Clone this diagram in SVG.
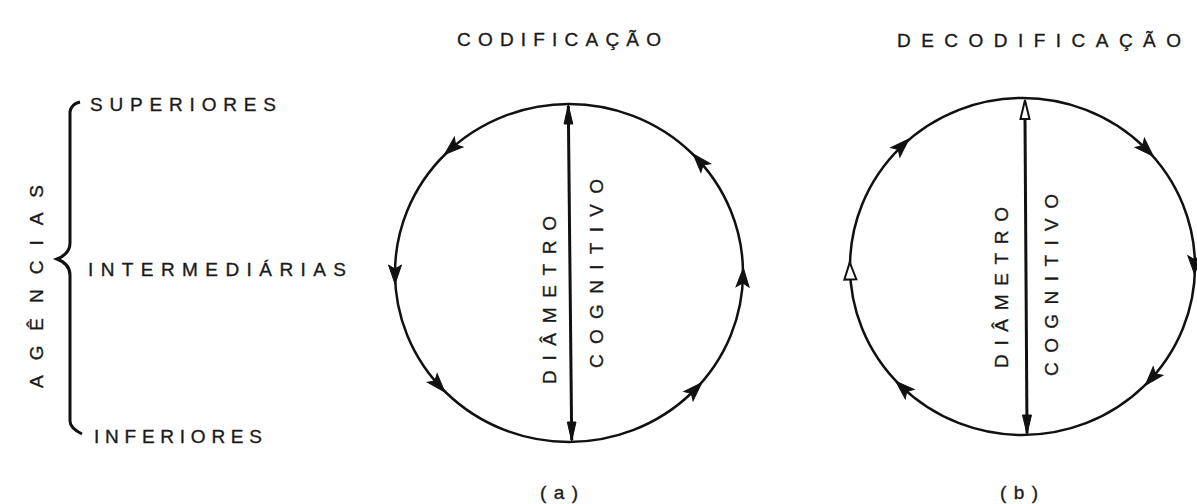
<svg xmlns="http://www.w3.org/2000/svg" width="1197" height="504" viewBox="0 0 1197 504">
<style>
  .t { font-family: "Liberation Sans", Arial, sans-serif; font-size: 19px; fill: #1a1a1a; stroke: #1a1a1a; stroke-width: 0.35; }
  .c { fill: none; stroke: #111; stroke-width: 2.5; }
  .d { fill: none; stroke: #111; stroke-width: 3; }
  .ah { fill: #111; stroke: #111; stroke-width: 1; stroke-linejoin: miter; }
  .ho { fill: #fff; stroke: #111; stroke-width: 2; }
</style>
<defs>
  <path id="arr" d="M11,0 L-8,-6.5 L-4,0 L-8,6.5 Z"/>
  <path id="arrh" d="M10,0 L-7,-6 L-7,6 Z"/>
</defs>
<rect width="1197" height="504" fill="#fff"/>

<g id="titles">
  <text class="t" x="457" y="46" textLength="204" lengthAdjust="spacing">CODIFICAÇÃO</text>
  <text class="t" x="897" y="47" textLength="284" lengthAdjust="spacing">DECODIFICAÇÃO</text>
</g>

<g id="agencias">
  <text class="t" transform="translate(43,388) rotate(-90)" x="0" y="0" textLength="203" lengthAdjust="spacing">AGÊNCIAS</text>
  <path class="d" d="M80,102 Q71,104 70,112 L70,243 Q70,254 57,259 Q70,264 70,275 L70,421 Q70,428 82,434"/>
  <text class="t" x="90" y="111" textLength="186" lengthAdjust="spacing">SUPERIORES</text>
  <text class="t" x="88" y="276" textLength="258" lengthAdjust="spacing">INTERMEDIÁRIAS</text>
  <text class="t" x="94" y="443" textLength="168" lengthAdjust="spacing">INFERIORES</text>
</g>

<g id="codificacao">
  <ellipse class="c" cx="569" cy="273" rx="174" ry="169"/>
  <text class="t" transform="translate(556,384) rotate(-90)" x="0" y="0" textLength="168" lengthAdjust="spacing">DIÂMETRO</text>
  <text class="t" transform="translate(603,368) rotate(-90)" x="0" y="0" textLength="189" lengthAdjust="spacing">COGNITIVO</text>
  <text class="t" x="540" y="499" textLength="38" lengthAdjust="spacing">( a )</text>
</g>

<g id="decodificacao">
  <ellipse class="c" cx="1022.5" cy="266.5" rx="172.5" ry="168.5"/>
  <text class="t" transform="translate(1008,368) rotate(-90)" x="0" y="0" textLength="161" lengthAdjust="spacing">DIÂMETRO</text>
  <text class="t" transform="translate(1058,376) rotate(-90)" x="0" y="0" textLength="182" lengthAdjust="spacing">COGNITIVO</text>
  <text class="t" x="1000" y="499" textLength="38" lengthAdjust="spacing">( b )</text>
</g>

<g id="connectors">
  <line class="d" x1="568.3" y1="106" x2="571.7" y2="440"/>
  <polygon class="ah" points="568.3,105 564,124 572.8,124"/>
  <polygon class="ah" points="571.7,441 567.3,422 576,422"/>
  <use href="#arr" class="ah" transform="translate(452.6,147.4) rotate(138.8)"/>
  <use href="#arr" class="ah" transform="translate(395,273) rotate(90)"/>
  <use href="#arr" class="ah" transform="translate(437.6,383.9) rotate(48.2)"/>
  <use href="#arr" class="ah" transform="translate(694.1,390.5) rotate(-45.1)"/>
  <use href="#arr" class="ah" transform="translate(742.9,278.9) rotate(-87.9)"/>
  <use href="#arr" class="ah" transform="translate(700.4,162.1) rotate(-131.8)"/>

  <line class="d" x1="1025" y1="119" x2="1027" y2="433"/>
  <polygon class="ho" points="1025,100 1020.5,119 1029.5,119"/>
  <polygon class="ah" points="1027,434 1022.5,415 1031.5,415"/>
  <use href="#arr" class="ah" transform="translate(901.1,146.7) rotate(-44)"/>
  <use href="#arrh" class="ho" transform="translate(850.1,272.4) rotate(-92)"/>
  <use href="#arr" class="ah" transform="translate(903.8,388.7) rotate(-137.2)"/>
  <use href="#arr" class="ah" transform="translate(1145.5,148.4) rotate(44.8)"/>
  <use href="#arr" class="ah" transform="translate(1194.5,263.6) rotate(89)"/>
  <use href="#arr" class="ah" transform="translate(1152.7,377) rotate(131.7)"/>
</g>
</svg>
